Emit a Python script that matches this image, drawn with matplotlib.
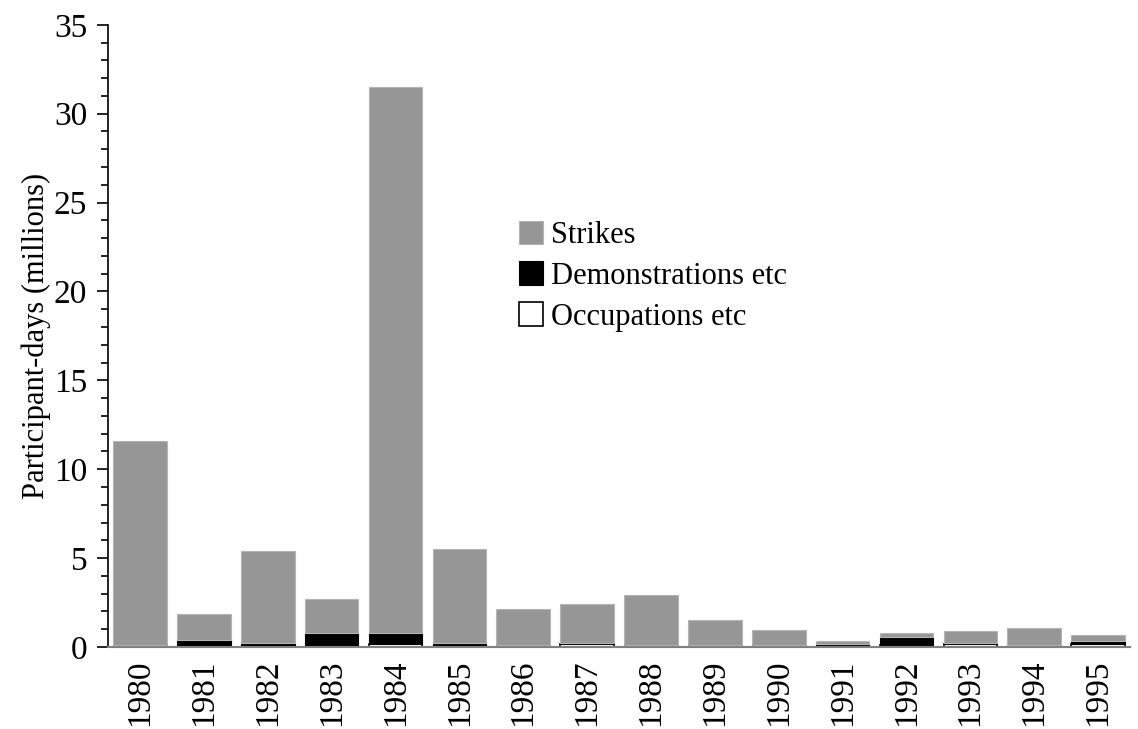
import numpy as np
import matplotlib.pyplot as plt
from matplotlib.ticker import MultipleLocator

plt.rcParams['font.family'] = ['Liberation Serif', 'DejaVu Serif']

years = [str(y) for y in range(1980, 1996)]
# participant-days, millions
occupations = [0.0, 0.0, 0.0, 0.0, 0.17, 0.0, 0.0, 0.17, 0.0, 0.0, 0.0, 0.0, 0.11, 0.15, 0.0, 0.19]
demonstrations = [0.1, 0.37, 0.24, 0.79, 0.62, 0.24, 0.13, 0.07, 0.11, 0.11, 0.11, 0.15, 0.43, 0.1, 0.11, 0.15]
totals = [11.6, 1.85, 5.4, 2.72, 31.5, 5.5, 2.12, 2.4, 2.93, 1.54, 0.96, 0.32, 0.79, 0.88, 1.05, 0.68]

occ = np.array(occupations)
dem = np.array(demonstrations)
strikes = np.array(totals) - occ - dem

x = np.arange(len(years))
w = 0.84

fig = plt.figure(figsize=(11.38, 7.29), dpi=100)
ax = fig.add_axes([0.095, 0.1125, 0.898, 0.8535])

ax.bar(x, occ, w, color='white', edgecolor='black', linewidth=1.2, label='Occupations etc')
ax.bar(x, dem, w, bottom=occ, color='black', edgecolor='black', linewidth=0.8, label='Demonstrations etc')
ax.bar(x, strikes, w, bottom=occ + dem, color='#969696', edgecolor='#b4b4b4', linewidth=0.8, label='Strikes')

ax.set_xlim(-0.5, 15.5)
ax.set_ylim(0, 35)
ax.yaxis.set_major_locator(MultipleLocator(5))
ax.yaxis.set_minor_locator(MultipleLocator(1))
ax.set_xticks(x)
ax.set_xticklabels(years, rotation=90)

ax.tick_params(axis='y', which='major', length=8, width=1.2, labelsize=24, pad=7)
ax.tick_params(axis='y', which='minor', length=5, width=1.2)
ax.tick_params(axis='x', length=0, labelsize=24, pad=9)

for s in ['top', 'right']:
    ax.spines[s].set_visible(False)
ax.spines['left'].set_linewidth(1.2)
ax.spines['bottom'].set_color('#808080')
ax.spines['bottom'].set_linewidth(1.5)

ax.set_ylabel('Participant-days (millions)', fontsize=22, labelpad=2)

h, l = ax.get_legend_handles_labels()
ax.legend(h[::-1], l[::-1], loc='upper left', bbox_to_anchor=(0.39, 0.705),
          frameon=False, fontsize=22, handlelength=0.8, handleheight=0.8,
          handletextpad=0.25, labelspacing=0.38, borderaxespad=0)

fig.savefig('out.png', dpi=100)
